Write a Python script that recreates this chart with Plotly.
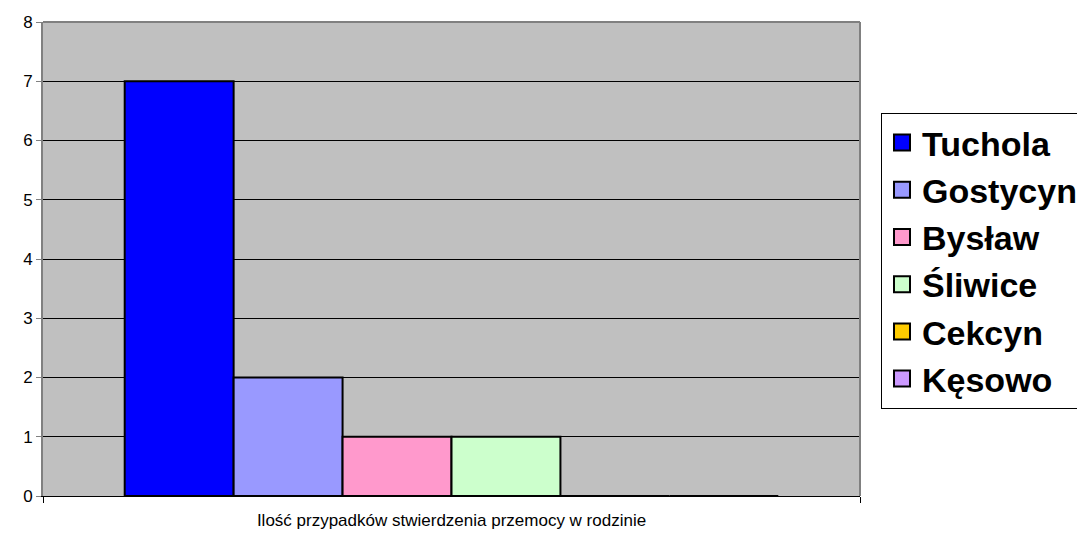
import plotly.graph_objects as go

category = ["Ilość przypadków stwierdzenia przemocy w rodzinie"]
series_names = ["Tuchola", "Gostycyn", "Bysław", "Śliwice", "Cekcyn", "Kęsowo"]
series_values = [7, 2, 1, 1, 0, 0]
series_colors = ["#0000FF", "#9999FF", "#FF99CC", "#CCFFCC", "#FFCC00", "#CC99FF"]
y_ticks = [0, 1, 2, 3, 4, 5, 6, 7, 8]

fig = go.Figure()
for name, val, col in zip(series_names, series_values, series_colors):
    fig.add_trace(go.Bar(
        x=[0], y=[val], name=name, legendgroup=name, showlegend=False,
        marker=dict(color=col, line=dict(color="#000000", width=2)),
    ))
# legend entries with larger square symbols
for name, col in zip(series_names, series_colors):
    fig.add_trace(go.Scatter(
        x=[None], y=[None], name=name, legendgroup=name, mode="markers",
        marker=dict(symbol="square", size=17, color=col, line=dict(color="#000000", width=2)),
    ))

fig.update_layout(
    width=1077, height=533,
    margin=dict(l=43, r=217, t=22, b=37, autoexpand=False),
    paper_bgcolor="#FFFFFF",
    plot_bgcolor="#C0C0C0",
    barmode="group", bargap=0.2, bargroupgap=0,
    font=dict(family="Arial, Liberation Sans", color="#000000"),
    showlegend=True,
    legend=dict(
        x=1.0257, xanchor="left", y=0.808, yanchor="top",
        bgcolor="#FFFFFF", bordercolor="#000000", borderwidth=1,
        font=dict(family="Arial, Liberation Sans", size=34, color="#000000", weight="bold"),
        tracegroupgap=0, itemwidth=30, itemsizing="trace",
    ),
    xaxis=dict(
        range=[-0.5, 0.5], tickvals=[0], ticktext=category, automargin=False,
        ticks="", showgrid=False, zeroline=False,
        showline=True, linecolor="#000000", linewidth=1,
        tickfont=dict(size=17), ticklabelstandoff=9,
        minor=dict(ticks="outside", ticklen=6, tick0=-0.5, dtick=1, tickcolor="#000000", showgrid=False),
    ),
    yaxis=dict(
        range=[0, 8], tickvals=y_ticks, ticks="outside", ticklen=5, tickcolor="#808080",
        automargin=False,
        showgrid=True, gridcolor="#000000", gridwidth=1, zeroline=False,
        showline=True, linecolor="#808080", linewidth=2,
        tickfont=dict(size=17),
    ),
    shapes=[
        dict(type="line", xref="paper", yref="paper", x0=0, x1=1, y0=1, y1=1,
             line=dict(color="#808080", width=2)),
        dict(type="line", xref="paper", yref="paper", x0=1, x1=1, y0=0, y1=1,
             line=dict(color="#808080", width=2)),
    ],
)

fig.write_html(
    "out.html",
    config={"displayModeBar": False},
    post_script="document.body.style.margin='0px';document.body.style.overflow='hidden';",
)
